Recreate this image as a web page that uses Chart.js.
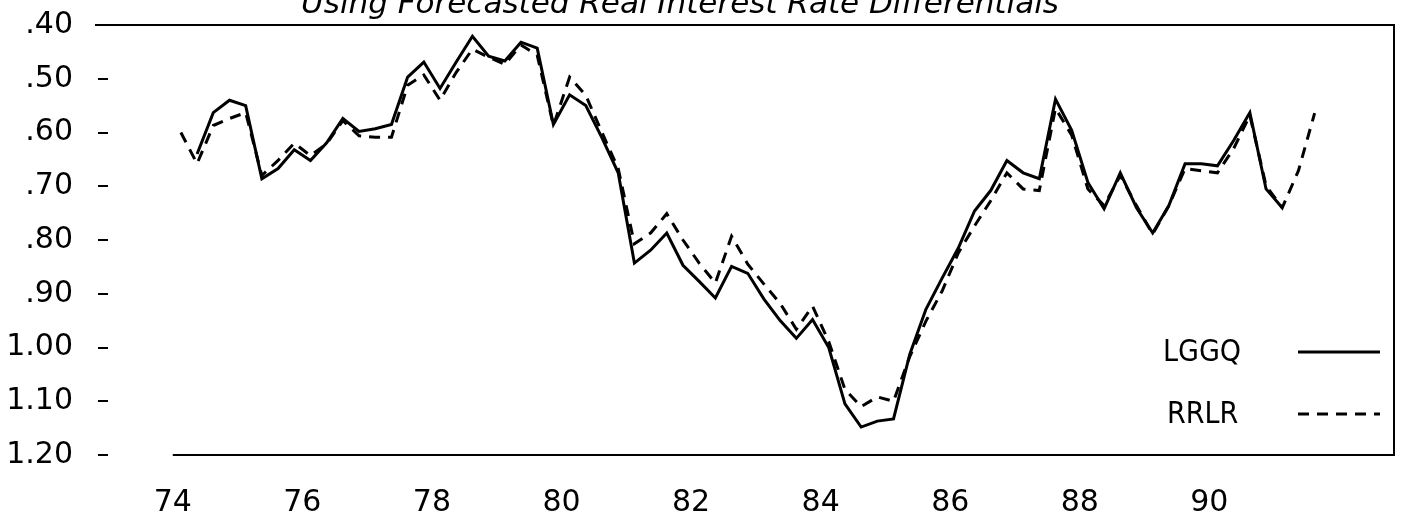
<!DOCTYPE html>
<html>
<head>
    <title>LGGQ vs RRLR</title>
    <meta charset="UTF-8">
    <script src="https://cdn.jsdelivr.net/npm/chart.js@4"></script>
    <style>
        body { margin: 0; background: #fff; }
        #wrap { width: 1406px; height: 520px; }
    </style>
</head>
<body>
    <div id="wrap"><canvas id="rateChart" width="1406" height="520"></canvas></div>

    <script>
        // Quarterly series, first value is 1974 Q1
        var startYear = 74;
        var titleText = 'Using Forecasted Real Interest Rate Differentials';
        var seriesNames = ['LGGQ', 'RRLR'];

        var lggq = [null, 0.640, 0.563, 0.540, 0.550, 0.686, 0.667, 0.632, 0.652, 0.619,
            0.574, 0.598, 0.593, 0.585, 0.497, 0.469, 0.518, 0.469, 0.421, 0.458,
            0.467, 0.432, 0.443, 0.585, 0.530, 0.550, 0.610, 0.675, 0.843, 0.819,
            0.787, 0.847, 0.877, 0.908, 0.849, 0.862, 0.910, 0.950, 0.983, 0.948,
            1.000, 1.105, 1.148, 1.137, 1.133, 1.013, 0.929, 0.871, 0.815, 0.746,
            0.708, 0.652, 0.675, 0.686, 0.538, 0.596, 0.693, 0.742, 0.675, 0.740,
            0.787, 0.736, 0.658, 0.658, 0.662, 0.615, 0.563, 0.705, 0.740, null, null];

        var rrlr = [0.600, 0.658, 0.587, 0.574, 0.563, 0.680, 0.652, 0.620, 0.643, 0.621,
            0.578, 0.606, 0.609, 0.609, 0.512, 0.493, 0.540, 0.488, 0.445, 0.460,
            0.473, 0.437, 0.456, 0.587, 0.497, 0.531, 0.600, 0.667, 0.807, 0.787,
            0.751, 0.800, 0.843, 0.880, 0.793, 0.845, 0.882, 0.918, 0.966, 0.923,
            0.989, 1.078, 1.110, 1.092, 1.100, 1.017, 0.951, 0.895, 0.824, 0.774,
            0.727, 0.675, 0.705, 0.708, 0.555, 0.605, 0.705, 0.736, 0.680, 0.736,
            0.789, 0.736, 0.667, 0.671, 0.675, 0.630, 0.568, 0.699, 0.740, 0.671, 0.564];

        var xTicks = [74, 76, 78, 80, 82, 84, 86, 88, 90];
        var yTicks = [0.40, 0.50, 0.60, 0.70, 0.80, 0.90, 1.00, 1.10, 1.20];

        // points sit in the middle of each quarter
        function toPoints(values) {
            return values.map(function (v, i) {
                return { x: startYear + (i + 0.5) / 4, y: v };
            });
        }

        function yLabel(v) {
            var s = v.toFixed(2);
            return s.charAt(0) === '0' ? s.slice(1) : s;
        }

        var axisFont = { family: 'DejaVu Sans', size: 30 };
        var legendFont = '30px "Liberation Sans Narrow", "DejaVu Sans Condensed", "DejaVu Sans"';

        // frame, title and legend drawn by hand like the printed figure
        var decorations = {
            id: 'decorations',
            afterDraw: function (chart) {
                var ctx = chart.ctx;
                var a = chart.chartArea;
                var x0 = chart.scales.x.getPixelForValue(startYear);
                ctx.save();
                ctx.strokeStyle = '#000';
                ctx.lineWidth = 2;
                ctx.beginPath();
                ctx.moveTo(a.left - 13, a.top);
                ctx.lineTo(a.right, a.top);
                ctx.lineTo(a.right, a.bottom);
                ctx.lineTo(x0, a.bottom);
                ctx.stroke();

                ctx.fillStyle = '#000';
                ctx.font = 'italic 31px "DejaVu Sans"';
                ctx.textAlign = 'center';
                ctx.textBaseline = 'alphabetic';
                ctx.fillText(titleText, 680, 13);

                ctx.font = legendFont;
                ctx.textAlign = 'left';
                ctx.textBaseline = 'middle';
                chart.data.datasets.forEach(function (ds, i) {
                    var y = a.bottom - 102 + i * 62;
                    ctx.fillText(ds.label, a.right - 231 + i * 4, y);
                    ctx.lineWidth = ds.borderWidth;
                    ctx.setLineDash(ds.borderDash || []);
                    ctx.beginPath();
                    ctx.moveTo(a.right - 96, y - 1);
                    ctx.lineTo(a.right - 14, y - 1);
                    ctx.stroke();
                });
                ctx.restore();
            }
        };

        window.onload = function () {
            new Chart(document.getElementById('rateChart').getContext('2d'), {
                type: 'line',
                data: {
                    datasets: [{
                        label: seriesNames[0],
                        data: toPoints(lggq),
                        borderColor: '#000',
                        borderWidth: 3,
                        pointRadius: 0,
                        tension: 0,
                        spanGaps: false
                    }, {
                        label: seriesNames[1],
                        data: toPoints(rrlr),
                        borderColor: '#000',
                        borderWidth: 3,
                        borderDash: [11, 8],
                        pointRadius: 0,
                        tension: 0
                    }]
                },
                options: {
                    responsive: false,
                    animation: false,
                    layout: { padding: { top: 25, right: 12, bottom: 0, left: 0 } },
                    plugins: {
                        legend: { display: false },
                        tooltip: { enabled: false },
                        title: { display: false }
                    },
                    scales: {
                        x: {
                            type: 'linear',
                            min: 73,
                            max: 92.85,
                            grid: { display: false },
                            border: { display: false },
                            afterBuildTicks: function (s) {
                                s.ticks = xTicks.map(function (v) { return { value: v }; });
                            },
                            afterFit: function (s) {
                                s.height = 65;
                                s.paddingLeft = 0;
                                s.paddingRight = 0;
                            },
                            ticks: {
                                color: '#000',
                                font: axisFont,
                                padding: 22,
                                maxRotation: 0,
                                autoSkip: false,
                                callback: function (v) { return String(v); }
                            }
                        },
                        y: {
                            reverse: true,
                            min: 0.40,
                            max: 1.20,
                            border: { display: false },
                            grid: {
                                drawOnChartArea: false,
                                drawTicks: true,
                                tickLength: 10,
                                color: '#000',
                                lineWidth: 2
                            },
                            afterBuildTicks: function (s) {
                                s.ticks = yTicks.map(function (v) { return { value: v }; });
                            },
                            afterFit: function (s) {
                                s.width = 108;
                                s.paddingTop = 0;
                                s.paddingBottom = 0;
                            },
                            ticks: {
                                color: '#000',
                                font: axisFont,
                                padding: 25,
                                autoSkip: false,
                                callback: function (v) { return yLabel(v); }
                            }
                        }
                    }
                },
                plugins: [decorations]
            });
        };
    </script>
</body>
</html>
